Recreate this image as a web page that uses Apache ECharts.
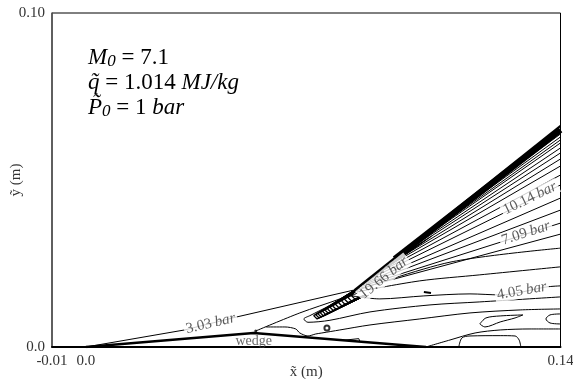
<!DOCTYPE html>
<html><head><meta charset="utf-8">
<script src="https://cdn.jsdelivr.net/npm/echarts@6/dist/echarts.min.js"></script>
<style>html,body{margin:0;padding:0;background:#fff}#c{width:573px;height:379px}</style>
</head><body><div id="c"></div>
<script>
// ---- axis ticks ----
const xTickValues = [-0.01, 0.0, 0.14];
const xTickText = ['-0.01', '0.0', '0.14'];
const yTickValues = [0.0, 0.10];
const yTickText = ['0.0', '0.10'];

// ---- contour lines (x, y in m) ----
const wedge = [[0, 0], [0.0495, 0.0042], [0.1003, 0]];
const shockLead = [[0, 0], [0.0291, 0.0051], [0.0445, 0.0090], [0.0793, 0.0171]];
const shockSteep = [[0.0793, 0.0171], [0.14, 0.0662]];
const shockBand = [[0.0911, 0.0264], [0.14, 0.0650]];
const apexLine = [[0.0501, 0.0048], [0.0631, 0.0102], [0.0749, 0.0144], [0.0796, 0.0165]];

// fan of isobars behind the steep shock: start point and right-edge end height
const fanStartX = [0.1044, 0.1015, 0.0985, 0.0956, 0.0941, 0.0920, 0.0903, 0.0885, 0.0867, 0.0852, 0.0838, 0.0826, 0.0817, 0.0808, 0.0802];
const fanStartY = [0.0371, 0.0347, 0.0323, 0.0299, 0.0287, 0.0270, 0.0256, 0.0241, 0.0228, 0.0216, 0.0204, 0.0193, 0.0186, 0.0180, 0.0174];
const fanEndY   = [0.0647, 0.0638, 0.0629, 0.0620, 0.0611, 0.0596, 0.0581, 0.0563, 0.0542, 0.0515, 0.0485, 0.0446, 0.0410, 0.0371, 0.0338];

// dense isobars packed just behind the shock near the kink
const denseStartX = [0.0800, 0.0806, 0.0812, 0.0818, 0.0824];
const denseStartY = [0.0176, 0.0180, 0.0184, 0.0188, 0.0192];
const denseEndX   = [0.0960, 0.0975, 0.0990, 0.1005, 0.1020];
const denseEndY   = [0.0295, 0.0303, 0.0312, 0.0322, 0.0332];

const fanLow1 = [[0.0796, 0.0168], [0.1074, 0.0254], [0.14, 0.0296]];
const fanLow2 = [[0.0799, 0.0165], [0.0985, 0.0198], [0.1162, 0.0216], [0.14, 0.0240]];
const iso405 = [[0.0785, 0.0153], [0.0867, 0.0144], [0.0997, 0.0153], [0.1133, 0.0159], [0.1222, 0.0156], [0.1360, 0.0180], [0.14, 0.0183]];
const dash = [[0.0997, 0.0165], [0.1018, 0.0162]];
const loopLower = [[0.0802, 0.0162], [0.0720, 0.0124], [0.0661, 0.0094], [0.0643, 0.0084], [0.0655, 0.0074], [0.0720, 0.0080], [0.0838, 0.0105], [0.1015, 0.0126], [0.1162, 0.0135], [0.14, 0.0150]];
const sLine = [[0.0531, 0.0060], [0.0587, 0.0060], [0.0619, 0.0054], [0.0631, 0.0042], [0.0655, 0.0033], [0.0678, 0.0039], [0.0696, 0.0042], [0.0749, 0.0051], [0.0838, 0.0066], [0.0985, 0.0084], [0.1133, 0.0102], [0.1281, 0.0111], [0.14, 0.0114]];
// narrow tongue of closed isobars reaching down-left from the kink (tip x, tip y)
const tongueTipX = [0.0672, 0.0678, 0.0684, 0.0691, 0.0698, 0.0705, 0.0712, 0.0720, 0.0728, 0.0736, 0.0745, 0.0754, 0.0763, 0.0773, 0.0783];
const tongueTipY = [0.0094, 0.0097, 0.0100, 0.0103, 0.0107, 0.0111, 0.0115, 0.0119, 0.0123, 0.0128, 0.0133, 0.0138, 0.0143, 0.0148, 0.0154];
const loopMid = [[0.1162, 0.0069], [0.1180, 0.0087], [0.1222, 0.0093], [0.1289, 0.0096], [0.1266, 0.0087], [0.1222, 0.0075], [0.1177, 0.0060], [0.1162, 0.0069]];
const edgeLoop = [[0.14, 0.0099], [0.1369, 0.0096], [0.1357, 0.0084], [0.1369, 0.0072], [0.14, 0.0069]];
const wedgeEnd = [[0.1003, 0], [0.1074, 0.0021], [0.1148, 0.0042], [0.1222, 0.0051], [0.1310, 0.0054], [0.14, 0.0054]];
const bump = [[0.1100, 0], [0.1109, 0.0027], [0.1133, 0.0033], [0.1222, 0.0034], [0.1266, 0.0033], [0.1278, 0.0021], [0.1283, 0]];
const wedgeBox = [[0.0758, 0.0020], [0.0761, 0.0025], [0.0805, 0.0025], [0.0808, 0.0017]];
const smallCircle = [[0.0711, 0.0057]];
const apexDot = [[0.0501, 0.0048]];

// ---- contour labels ----
const labelText = ['3.03', '19.66', '10.14', '7.09', '4.05'];
const labelX = [0.0368, 0.0879, 0.1310, 0.1298, 0.1286];
const labelY = [0.0070, 0.0207, 0.0445, 0.0341, 0.0168];
const labelAngle = [13, 39, 26, 18, 10];
const wedgeLabel = [[0.0495, 0.0018]];

const SERIF = '"Liberation Serif", "DejaVu Serif", serif';
const chart = echarts.init(document.getElementById('c'), null, {renderer: 'canvas'});

function line(data, width, smooth) {
  return {type: 'line', data: data, symbol: 'none', smooth: smooth || false, silent: true,
    lineStyle: {color: '#000', width: width}, z: 2, animation: false};
}

const series = [];
series.push(line(wedge, 2.5));
series.push(line(shockLead, 1));
series.push(line(shockSteep, 2));
series.push(line(shockBand, 6));
series.push(line(apexLine, 1, 0.3));
for (let i = 0; i < fanStartX.length; i++) {
  series.push(line([[fanStartX[i], fanStartY[i]], [0.14, fanEndY[i]]], 1));
}
for (let i = 0; i < denseStartX.length; i++) {
  series.push(line([[denseStartX[i], denseStartY[i]], [denseEndX[i], denseEndY[i]]], 1));
}
const tongueUpper = [0.0806, 0.0178];
const tongueLower = [0.0826, 0.0156];
for (let i = 0; i < tongueTipX.length; i++) {
  series.push(line([tongueUpper, [tongueTipX[i], tongueTipY[i]], [tongueTipX[i] + 0.0010, tongueTipY[i] - 0.0010], tongueLower], 1.3));
}
[fanLow1, fanLow2, iso405, loopLower, sLine, loopMid, edgeLoop, wedgeEnd, bump].forEach(d => series.push(line(d, 1, 0.3)));
series.push(line(wedgeBox, 1));
series.push(line(dash, 2));
series.push({type: 'scatter', data: smallCircle, symbol: 'emptyCircle', symbolSize: 5,
  itemStyle: {color: '#000', borderColor: '#000', borderWidth: 1}, silent: true, animation: false});
series.push({type: 'scatter', data: apexDot, symbol: 'circle', symbolSize: 3,
  itemStyle: {color: '#000'}, silent: true, animation: false});

const rich = {
  n: {fontFamily: SERIF, fontSize: 15, color: '#333'},
  i: {fontFamily: SERIF, fontSize: 15, color: '#333', fontStyle: 'italic'}
};
series.push({
  type: 'scatter', symbolSize: 1, silent: true, animation: false, z: 10,
  itemStyle: {color: 'rgba(0,0,0,0)'},
  data: labelText.map((t, k) => ({
    value: [labelX[k], labelY[k]],
    label: {show: true, position: 'inside', rotate: labelAngle[k],
      formatter: '{n|' + t + '} {i|bar}', rich: rich,
      backgroundColor: '#fff', padding: [0, 2, 0, 2]}
  }))
});
series.push({
  type: 'scatter', symbolSize: 1, silent: true, animation: false, z: 10,
  itemStyle: {color: 'rgba(0,0,0,0)'},
  data: wedgeLabel,
  label: {show: true, position: 'inside', formatter: 'wedge', fontFamily: SERIF, fontSize: 14, color: '#444'}
});

function tickFmt(values, texts) {
  return function (v) {
    for (let k = 0; k < values.length; k++) if (Math.abs(v - values[k]) < 1e-9) return texts[k];
    return '';
  };
}

chart.setOption({
  backgroundColor: '#fff',
  animation: false,
  grid: {left: 52, right: 12.5, top: 13, bottom: 32, containLabel: false, outerBoundsMode: 'none',
    show: true, borderColor: '#000', borderWidth: 1},
  xAxis: {
    type: 'value', min: -0.01, max: 0.14, interval: 0.01,
    axisLine: {show: true, onZero: false, lineStyle: {color: '#000', width: 2}},
    axisTick: {show: false}, splitLine: {show: false},
    axisLabel: {formatter: tickFmt(xTickValues, xTickText), fontFamily: SERIF, fontSize: 15, color: '#333', margin: 7,
      showMinLabel: true, showMaxLabel: true},
    name: 'x\u0303 (m)', nameLocation: 'middle', nameGap: 18, nameMoveOverlap: false,
    nameTextStyle: {fontFamily: SERIF, fontSize: 15, color: '#333'}
  },
  yAxis: {
    type: 'value', min: 0, max: 0.10, interval: 0.10,
    axisLine: {show: true, onZero: false, lineStyle: {color: '#555', width: 1.5}},
    axisTick: {show: false}, splitLine: {show: false},
    axisLabel: {formatter: tickFmt(yTickValues, yTickText), fontFamily: SERIF, fontSize: 15, color: '#333', margin: 7},
    name: 'y\u0303 (m)', nameLocation: 'middle', nameGap: 28, nameRotate: 90, nameMoveOverlap: false,
    nameTextStyle: {fontFamily: SERIF, fontSize: 15, color: '#333'}
  },
  graphic: [{
    type: 'text', left: 88, top: 46, silent: true,
    style: {
      text: '{mi|M}{sb|0}{r| = 7.1}\n{mi|q\u0303}{r| = 1.014 }{mi|MJ/kg}\n{mi|P\u0303}{sb|0}{r| = 1 }{mi|bar}',
      rich: {
        mi: {fontFamily: SERIF, fontSize: 23, fontStyle: 'italic', color: '#111', lineHeight: 25},
        sb: {fontFamily: SERIF, fontSize: 17, fontStyle: 'italic', color: '#111', lineHeight: 14, verticalAlign: 'bottom'},
        r: {fontFamily: SERIF, fontSize: 23, color: '#111', lineHeight: 25}
      }
    }
  }],
  series: series
});
</script>
</body></html>
